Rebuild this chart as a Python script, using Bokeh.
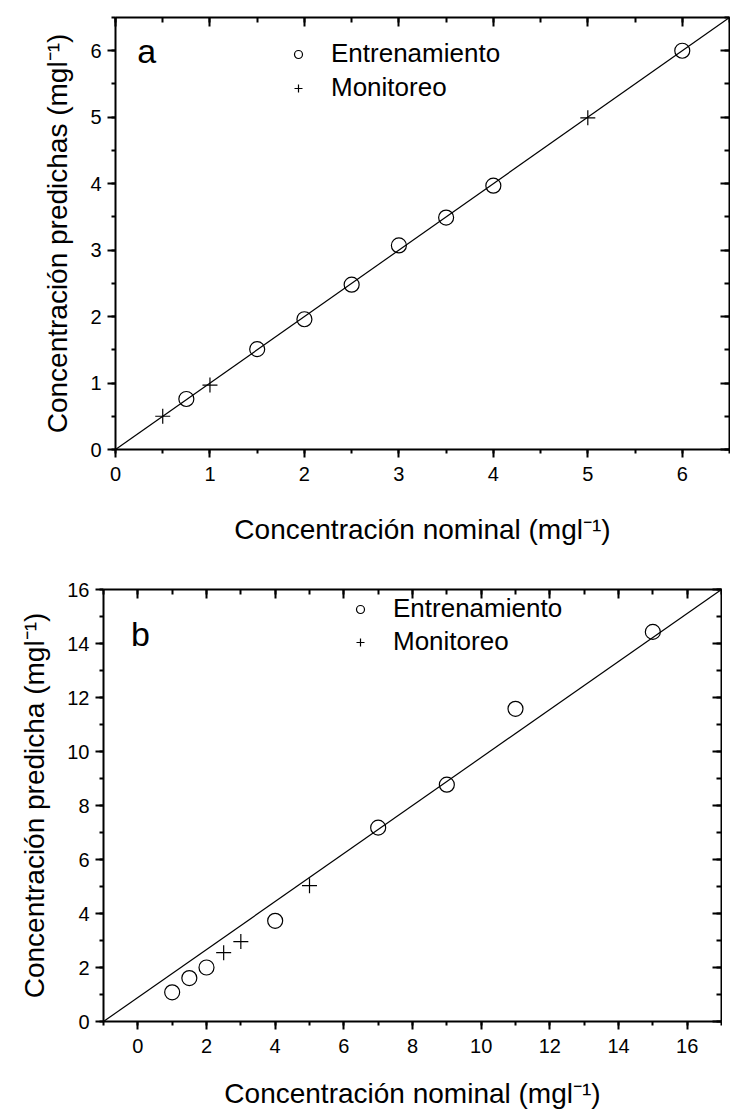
from bokeh.plotting import figure
from bokeh.models import (LinearAxis, SingleIntervalTicker, Legend, LegendItem,
                          Label, CustomJSTickFormatter)
from bokeh.embed import file_html
from bokeh.resources import INLINE

# ---------------- data ----------------
# panel a
train_a_x = [0.75, 1.5, 2.0, 2.5, 3.0, 3.5, 4.0, 6.0]
train_a_y = [0.76, 1.51, 1.96, 2.48, 3.07, 3.49, 3.97, 6.00]
mon_a_x = [0.5, 1.0, 5.0]
mon_a_y = [0.50, 0.97, 4.99]
fit_a_slope = 1.0
fit_a_intercept = 0.0

# panel b
train_b_x = [1.0, 1.5, 2.0, 4.0, 7.0, 9.0, 11.0, 15.0]
train_b_y = [1.08, 1.61, 2.00, 3.73, 7.18, 8.77, 11.58, 14.43]
mon_b_x = [2.5, 3.0, 5.0]
mon_b_y = [2.55, 2.96, 5.03]
fit_b_slope = 16.0 / 18.0
fit_b_intercept = 16.0 / 18.0

legend_labels = ["Entrenamiento", "Monitoreo"]
xlabel = "Concentración nominal (mgl⁻¹)"
ylabel_a = "Concentración predichas (mgl⁻¹)"
ylabel_b = "Concentración predicha (mgl⁻¹)"

FONT = "Liberation Sans"


def style_axis(ax, out=True):
    ax.axis_line_width = 2
    ax.axis_line_color = "black"
    ax.major_tick_line_width = 2
    ax.minor_tick_line_width = 2
    ax.major_tick_line_color = "black"
    ax.minor_tick_line_color = "black"
    if out:
        ax.major_tick_out = 8
        ax.major_tick_in = 0
        ax.minor_tick_out = 4
        ax.minor_tick_in = 0
    else:
        ax.major_tick_out = 0
        ax.major_tick_in = 9
        ax.minor_tick_out = 0
        ax.minor_tick_in = 5
    ax.major_label_text_font = FONT
    ax.major_label_text_font_size = "20px"
    ax.major_label_text_color = "black"
    ax.axis_label_text_font = FONT
    ax.axis_label_text_font_size = "28px"
    ax.axis_label_text_font_style = "normal"
    ax.axis_label_text_color = "black"


def make_panel(xr, yr, xint, yint, fw, fh, borders, xl, yl,
               tx, ty, mx, my, slope, intercept, letter, letter_xy,
               leg_loc, leg_spacing, xlab_standoff):
    bl, br, bt, bb = borders
    p = figure(frame_width=fw, frame_height=fh, x_range=xr, y_range=yr,
               min_border_left=bl, min_border_right=br, min_border_top=bt,
               min_border_bottom=bb, output_backend="svg", toolbar_location=None,
               x_axis_label=xl, y_axis_label=yl)
    p.grid.visible = False
    p.outline_line_color = None
    p.background_fill_color = "white"
    p.border_fill_color = "white"

    p.xaxis.ticker = SingleIntervalTicker(interval=xint, num_minor_ticks=2)
    p.yaxis.ticker = SingleIntervalTicker(interval=yint, num_minor_ticks=2)
    style_axis(p.xaxis[0])
    style_axis(p.yaxis[0])
    p.xaxis.major_label_standoff = 9
    p.yaxis.major_label_standoff = 6
    p.xaxis.axis_label_standoff = xlab_standoff
    p.yaxis.axis_label_standoff = 14

    top = LinearAxis(ticker=SingleIntervalTicker(interval=xint, num_minor_ticks=2),
                     formatter=CustomJSTickFormatter(code="return ''"),
                     major_label_standoff=0)
    right = LinearAxis(ticker=SingleIntervalTicker(interval=yint, num_minor_ticks=2),
                       formatter=CustomJSTickFormatter(code="return ''"),
                       major_label_standoff=0)
    style_axis(top, out=False)
    style_axis(right, out=False)
    p.add_layout(top, "above")
    p.add_layout(right, "right")

    # fitted line across the full x range
    fx = [xr[0], xr[1]]
    fy = [slope * v + intercept for v in fx]
    p.line(fx, fy, line_color="black", line_width=1.2)

    rc = p.scatter(tx, ty, marker="circle", size=15, fill_color=None,
                   line_color="black", line_width=1.2)
    rm = p.scatter(mx, my, marker="cross", size=15, line_color="black",
                   line_width=1.2)

    leg = Legend(items=[LegendItem(label=legend_labels[0], renderers=[rc]),
                        LegendItem(label=legend_labels[1], renderers=[rm])],
                 location=leg_loc, label_text_font=FONT,
                 label_text_font_size="26px", label_text_color="black",
                 glyph_width=20, glyph_height=30,
                 label_height=30, label_standoff=23, spacing=leg_spacing,
                 padding=0, margin=0, border_line_color=None,
                 background_fill_alpha=0)
    p.add_layout(leg)

    p.add_layout(Label(x=letter_xy[0], y=letter_xy[1], text=letter,
                       text_font=FONT, text_font_size="34px",
                       text_baseline="alphabetic", text_color="black"))
    return p


pa = make_panel((0, 6.5), (0, 6.5), 1, 1, 614, 432, (115, 1, 17, 116),
                xlabel, ylabel_a, train_a_x, train_a_y, mon_a_x, mon_a_y,
                fit_a_slope, fit_a_intercept, "a", (0.23, 6.0), (173, 346), 3,
                30)

pb = make_panel((-1, 17), (0, 16), 2, 2, 618, 432, (103, 1, 24, 92),
                xlabel, ylabel_b, train_b_x, train_b_y, mon_b_x, mon_b_y,
                fit_b_slope, fit_b_intercept, "b", (-0.2, 14.37), (247, 364), 2,
                22)

open("out.html", "w").write(file_html([pa, pb], INLINE))
